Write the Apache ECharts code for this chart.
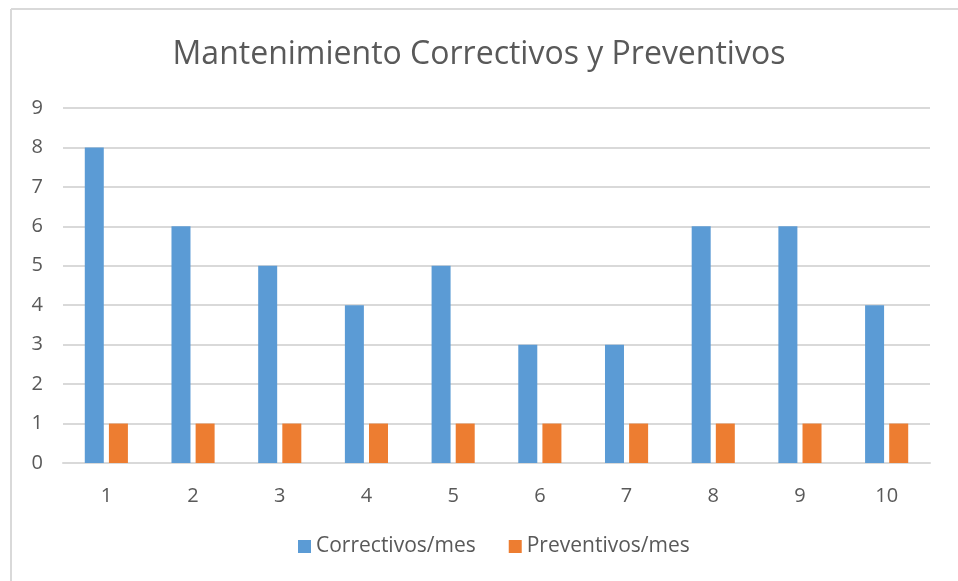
<!DOCTYPE html>
<html>
<head>
<meta charset="utf-8">
<script src="https://cdn.jsdelivr.net/npm/echarts@6/dist/echarts.min.js"></script>
<style>
  html, body { margin: 0; padding: 0; background: #fff; }
  #chart { width: 958px; height: 581px; }
</style>
</head>
<body>
<div id="chart"></div>
<script>
  // meses
  var months = ['1', '2', '3', '4', '5', '6', '7', '8', '9', '10'];
  var correctivos = [8, 6, 5, 4, 5, 3, 3, 6, 6, 4];
  var preventivos = [1, 1, 1, 1, 1, 1, 1, 1, 1, 1];
  var yTicks = [0, 1, 2, 3, 4, 5, 6, 7, 8, 9];

  var FONT = '"Open Sans", "Noto Sans", sans-serif';
  var GREY = '#595959';

  var chart = echarts.init(document.getElementById('chart'));

  var option = {
    backgroundColor: '#fff',
    textStyle: { fontFamily: FONT, color: GREY },
    title: {
      text: 'Mantenimiento Correctivos y Preventivos',
      left: 'center',
      top: 34,
      textStyle: { fontFamily: FONT, fontSize: 32, fontWeight: 'normal', color: GREY }
    },
    legend: {
      bottom: 19,
      left: 293,
      itemWidth: 13,
      itemHeight: 13,
      itemGap: 33,
      icon: 'rect',
      textStyle: { fontFamily: FONT, fontSize: 21, color: GREY },
      data: ['Correctivos/mes', 'Preventivos/mes']
    },
    grid: { left: 63, right: 28, top: 108, bottom: 118 },
    xAxis: {
      type: 'category',
      data: months,
      axisLine: { lineStyle: { color: '#d9d9d9', width: 2 } },
      axisTick: { show: false },
      axisLabel: { fontFamily: FONT, fontSize: 20, color: GREY, margin: 23 }
    },
    yAxis: {
      type: 'value',
      min: yTicks[0],
      max: yTicks[yTicks.length - 1],
      interval: 1,
      axisLine: { show: false },
      axisTick: { show: false },
      axisLabel: { fontFamily: FONT, fontSize: 20, color: GREY, margin: 20 },
      splitLine: { lineStyle: { color: '#d9d9d9', width: 2 } }
    },
    series: [
      {
        name: 'Correctivos/mes',
        type: 'bar',
        data: correctivos,
        barWidth: 19,
        barGap: '27%',
        itemStyle: { color: '#5b9bd5' }
      },
      {
        name: 'Preventivos/mes',
        type: 'bar',
        data: preventivos,
        barWidth: 19,
        itemStyle: { color: '#ed7d31' }
      }
    ],
    graphic: [
      // borde del grafico (arriba e izquierda)
      { type: 'line', shape: { x1: 11, y1: 9, x2: 958, y2: 9 }, style: { stroke: '#d9d9d9', lineWidth: 2 } },
      { type: 'line', shape: { x1: 11, y1: 9, x2: 11, y2: 581 }, style: { stroke: '#d9d9d9', lineWidth: 2 } }
    ]
  };

  chart.setOption(option);
</script>
</body>
</html>
